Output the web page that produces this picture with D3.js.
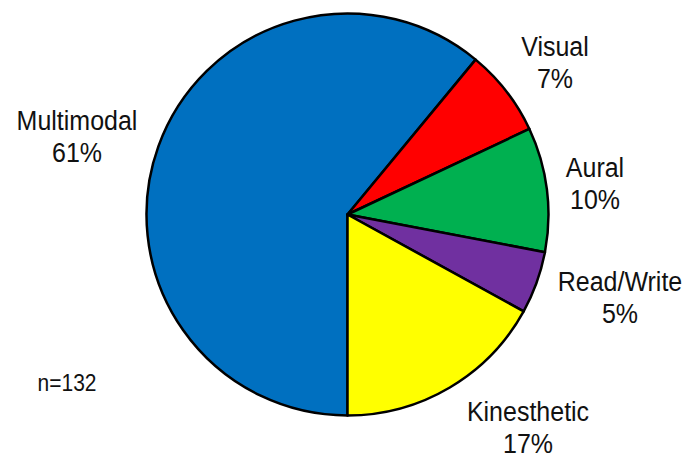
<!DOCTYPE html>
<html>
<head>
<meta charset="utf-8">
<script src="https://cdn.jsdelivr.net/npm/d3@7"></script>
<style>
  body { margin: 0; background: #fff; }
  text { font-family: Arial, "Liberation Sans", sans-serif; fill: #111; }
</style>
</head>
<body>
<svg id="chart" width="699" height="453"></svg>
<script>
// data
const categories = ['Multimodal', 'Visual', 'Aural', 'Read/Write', 'Kinesthetic'];
const percents = [61, 7, 10, 5, 17];
const colors = ['#0070C0', '#FF0000', '#00B050', '#7030A0', '#FFFF00'];
// label anchor points (text centre, first baseline)
const labelPos = [[77, 130], [555, 56], [595, 177], [620, 291], [528, 421]];
const sampleNote = 'n=132';

var svg = d3.select('#chart');
var cx = 347.5, cy = 214.5, radius = 201;

var pie = d3.pie()
  .sort(null)
  .value(d => d)
  .startAngle(Math.PI)
  .endAngle(3 * Math.PI);

var arc = d3.arc().innerRadius(0).outerRadius(radius);

var g = svg.append('g').attr('transform', 'translate(' + cx + ',' + cy + ')');

g.selectAll('path')
  .data(pie(percents))
  .enter().append('path')
  .attr('d', arc)
  .attr('fill', (d, i) => colors[i])
  .attr('stroke', '#000')
  .attr('stroke-width', 2.5)
  .attr('stroke-linejoin', 'round');

// text in the source looks slightly stretched vertically
var labels = svg.selectAll('.lbl')
  .data(categories)
  .enter().append('text')
  .attr('class', 'lbl')
  .attr('text-anchor', 'middle')
  .style('font-size', '25px')
  .attr('transform', (d, i) => 'translate(' + labelPos[i][0] + ',' + labelPos[i][1] + ') scale(1,1.12)');

labels.append('tspan').attr('x', 0).attr('y', 0).text(d => d);
labels.append('tspan').attr('x', 0).attr('y', 29).text((d, i) => percents[i] + '%');

svg.append('text')
  .attr('text-anchor', 'middle')
  .style('font-size', '21px')
  .attr('transform', 'translate(67,391) scale(1,1.1)')
  .text(sampleNote);
</script>
</body>
</html>
